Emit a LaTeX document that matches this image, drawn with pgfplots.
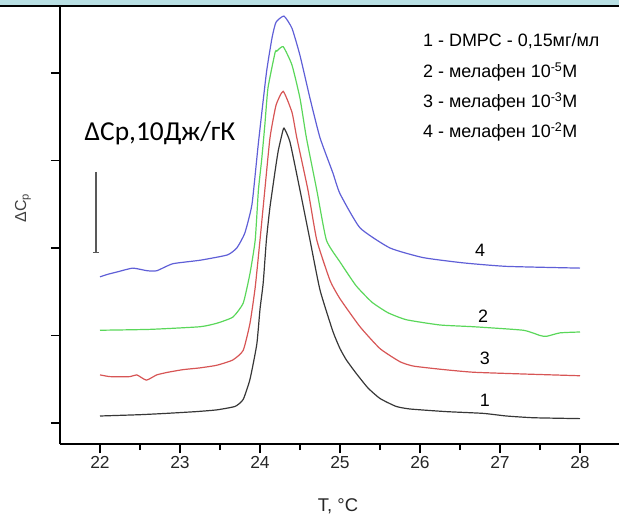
\documentclass[border=0pt]{standalone}
\usepackage{fontspec}
\setmainfont{Liberation Sans}
\newfontfamily\calib{Carlito}
\usepackage{pgfplots}
\pgfplotsset{compat=1.18}
\definecolor{cblack}{RGB}{55,55,55}
\definecolor{cred}{RGB}{215,85,85}
\definecolor{cgreen}{RGB}{90,215,90}
\definecolor{cblue}{RGB}{95,95,215}
\definecolor{band}{RGB}{185,224,228}
\begin{document}
\begin{tikzpicture}
\useasboundingbox (-60bp,-71bp) rectangle (559bp,444bp);
\fill[band] (-60bp,437bp) rectangle (559bp,444bp);
\draw[line width=2bp, black] (-60bp,437.5bp) -- (559bp,437.5bp);
\begin{axis}[at={(0,0)}, anchor=south west, scale only axis,
  width=559bp, height=437bp,
  xmin=21.5, xmax=28.4875, ymin=-0.24, ymax=4.754,
  axis x line=bottom, axis y line=left,
  axis line style={-, line width=2.2bp, black},
  tick align=outside,
  xtick={22,23,24,25,26,27,28}, minor x tick num=1,
  ytick={0,1,2,3,4}, yticklabels={},
  major tick length=9bp, minor tick length=6bp,
  every tick/.style={line width=1.8bp, black},
  ticklabel style={font=\fontsize{17.5}{17.5}\selectfont, text=black!85},
  /pgf/number format/assume math mode=true,
  clip=false]
\addplot[cblack, line width=1.2bp, smooth, tension=0.3] coordinates {
(22.0,0.08) (22.5,0.095) (22.83,0.11) (23.2,0.13) (23.46,0.15) (23.69,0.19)
(23.79,0.27) (23.875,0.5) (23.96,0.9) (24.0,1.3) (24.04,1.6) (24.08,2.09)
(24.125,2.47) (24.2,2.95) (24.23,3.12) (24.27,3.28) (24.3,3.37) (24.375,3.21)
(24.5,2.66) (24.625,2.09) (24.75,1.52) (24.91,1.05) (25.0,0.85) (25.08,0.72)
(25.2,0.57) (25.35,0.40) (25.5,0.28) (25.7,0.19) (25.875,0.16) (26.33,0.13)
(26.79,0.11) (27.08,0.08) (27.42,0.06) (28.0,0.05)};
\addplot[cred, line width=1.2bp, smooth, tension=0.3] coordinates {
(22.0,0.55) (22.125,0.53) (22.375,0.53) (22.46,0.55) (22.58,0.49) (22.71,0.55)
(22.85,0.58) (23.04,0.61) (23.25,0.63) (23.46,0.66) (23.66,0.72) (23.79,0.83)
(23.875,1.14) (23.94,1.55) (24.0,2.09) (24.06,2.66) (24.125,3.26) (24.2,3.63)
(24.29,3.79) (24.4,3.55) (24.46,3.26) (24.6,2.66) (24.71,2.09) (24.875,1.63)
(25.0,1.42) (25.25,1.10) (25.5,0.85) (25.75,0.70) (25.92,0.65) (26.3,0.61)
(26.67,0.58) (27.29,0.56) (28.0,0.54)};
\addplot[cgreen, line width=1.2bp, smooth, tension=0.3] coordinates {
(22.0,1.06) (22.625,1.07) (23.25,1.10) (23.46,1.14) (23.66,1.21) (23.79,1.37)
(23.875,1.71) (23.94,2.09) (23.98,2.66) (24.02,3.0) (24.06,3.4) (24.1,3.83)
(24.19,4.24) (24.21,4.25) (24.29,4.30) (24.4,4.09) (24.5,3.71) (24.58,3.26)
(24.71,2.66) (24.83,2.09) (25.0,1.84) (25.2,1.57) (25.4,1.38) (25.6,1.26)
(25.83,1.18) (26.25,1.12) (26.67,1.10) (27.29,1.06) (27.5,1.0) (27.58,0.99)
(27.75,1.03) (28.0,1.04)};
\addplot[cblue, line width=1.2bp, smooth, tension=0.3] coordinates {
(22.0,1.67) (22.1,1.70) (22.23,1.73) (22.41,1.77) (22.59,1.74) (22.71,1.74)
(22.91,1.82) (23.25,1.86) (23.59,1.92) (23.71,2.0) (23.81,2.17) (23.9,2.5)
(23.98,3.2) (24.08,4.0) (24.15,4.4) (24.2,4.58) (24.3,4.65) (24.4,4.51)
(24.5,4.2) (24.625,3.71) (24.75,3.26) (24.91,2.86) (25.0,2.62) (25.25,2.23)
(25.625,2.0) (26.04,1.89) (26.54,1.83) (27.08,1.79) (28.0,1.77)};
% scale bar
\addplot[black!65, line width=1.1bp] coordinates {(21.95,2.87) (21.95,1.95)};
\addplot[black!65, line width=1.1bp] coordinates {(21.91,1.95) (21.99,1.95)};
\node[font=\fontsize{18}{18}\selectfont] at (axis cs:26.75,1.97) {4};
\node[font=\fontsize{18}{18}\selectfont] at (axis cs:26.79,1.22) {2};
\node[font=\fontsize{18}{18}\selectfont] at (axis cs:26.81,0.74) {3};
\node[font=\fontsize{18}{18}\selectfont] at (axis cs:26.81,0.26) {1};
\end{axis}
\node[font=\fontsize{18.5}{18.5}\selectfont, text=black!85] at (278bp,-62bp) {T, °C};
\node[font=\fontsize{16}{16}\selectfont, text=black!75, rotate=90] at (-37bp,236bp) {ΔC\textsubscript{p}};
\node[font=\calib\fontsize{27.5}{27.5}\selectfont] at (100bp,311bp) {ΔCp,10Дж/гК};
\begin{scope}[every node/.style={anchor=west, font=\fontsize{18}{18}\selectfont, inner sep=0pt}]
\node at (363bp,403bp) {1 - DMPC - 0,15мг/мл};
\node at (363bp,372bp) {2 - мелафен 10\textsuperscript{-5}М};
\node at (363bp,342bp) {3 - мелафен 10\textsuperscript{-3}М};
\node at (363bp,312bp) {4 - мелафен 10\textsuperscript{-2}М};
\end{scope}
\end{tikzpicture}
\end{document}
